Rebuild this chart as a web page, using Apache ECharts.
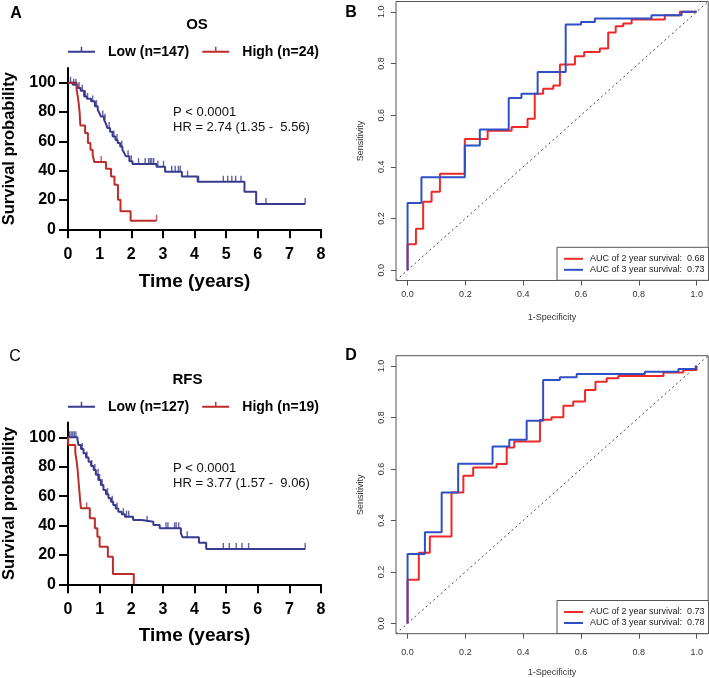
<!DOCTYPE html>
<html><head><meta charset="utf-8">
<script src="https://cdn.jsdelivr.net/npm/echarts@6/dist/echarts.min.js"></script>
<style>html,body{margin:0;padding:0;background:#fff}#c{width:709px;height:678px}</style>
</head><body><div id="c"></div>
<script>
// ---------- Panel A : OS Kaplan-Meier ----------
const osLowTimes = [0, 0.15, 0.3, 0.4, 0.51, 0.6, 0.73, 0.85, 0.94, 1.0, 1.04, 1.14, 1.2, 1.25, 1.33, 1.41, 1.5, 1.57, 1.65, 1.72, 1.78, 1.83, 1.94, 2.04, 2.8, 3.07, 3.6, 4.1, 5.58, 5.95];
const osLowSurv  = [100, 98.6, 96.4, 94.5, 90.7, 89, 87.3, 84, 81.6, 79, 77, 74.8, 72, 69.1, 66.5, 63.4, 61, 58.9, 56.5, 54.3, 52, 49.8, 46.4, 44.5, 42.7, 39.3, 36, 32.5, 25.7, 17.3];
const osLowEnd = 7.5;
const osLowCensor = [0.08, 0.18, 0.25, 0.35, 0.45, 0.55, 0.62, 0.78, 0.9, 1.1, 1.17, 1.3, 1.45, 1.55, 1.7, 1.9, 2.0, 2.23, 2.44, 2.55, 2.6, 2.65, 2.71, 2.84, 3.02, 3.28, 3.39, 3.49, 3.55, 3.78, 4.13, 4.91, 5.05, 5.18, 5.3, 5.47, 6.26, 7.5];
const osHighTimes = [0, 0.27, 0.3, 0.33, 0.35, 0.37, 0.38, 0.39, 0.54, 0.63, 0.71, 0.78, 0.83, 1.2, 1.36, 1.47, 1.58, 1.66, 1.98];
const osHighSurv  = [100, 95.8, 91.7, 87.5, 83.3, 79.2, 75, 70.9, 65.7, 58.9, 54.3, 50.9, 45.9, 41.4, 36.1, 30.4, 20.2, 12.3, 5.9];
const osHighEnd = 2.8;
const osHighCensor = [1.05, 2.8];

// ---------- Panel C : RFS Kaplan-Meier ----------
const rfsLowTimes = [0, 0.3, 0.33, 0.41, 0.49, 0.57, 0.65, 0.73, 0.81, 0.88, 0.96, 1.04, 1.12, 1.2, 1.28, 1.36, 1.43, 1.51, 1.59, 1.7, 1.8, 2.06, 2.33, 2.7, 2.9, 3.57, 3.62, 4.14, 4.37];
const rfsLowSurv  = [100, 98.5, 94.8, 92, 89.1, 86.2, 83.4, 80.5, 77.8, 74.5, 71, 67.5, 64.1, 61.3, 58.5, 56.2, 53.9, 51.6, 49.4, 47.7, 46, 43.7, 42.6, 40.4, 38.1, 34.8, 32, 28.3, 24];
const rfsLowEnd = 7.5;
const rfsLowCensor = [0.05, 0.1, 0.15, 0.2, 0.25, 0.45, 0.6, 0.75, 0.85, 0.95, 1.0, 1.08, 1.25, 1.4, 1.55, 1.75, 1.85, 1.92, 2.5, 3.1, 3.16, 3.37, 3.42, 3.5, 3.77, 4.91, 5.1, 5.32, 5.5, 5.71, 7.5];
const rfsHighTimes = [0, 0.01, 0.23, 0.27, 0.3, 0.32, 0.34, 0.36, 0.38, 0.41, 0.69, 0.85, 0.93, 1.0, 1.26, 1.42, 2.08];
const rfsHighSurv  = [100, 94.7, 89.5, 84.2, 78.9, 73.7, 68.4, 63.2, 57.9, 51.7, 44.9, 38.1, 32.4, 25.6, 18.8, 7, 0];
const rfsHighEnd = 2.08;
const rfsHighCensor = [0.59];

const kmYTicks = [0, 20, 40, 60, 80, 100];

// ---------- Panel B : ROC (OS) ----------
const rocB2Fpr = [0, 0, 0.029, 0.054, 0.083, 0.112, 0.198, 0.277, 0.36, 0.415, 0.44, 0.469, 0.504, 0.527, 0.579, 0.611, 0.665, 0.694, 0.72, 0.746, 0.775, 0.89, 0.942, 1.0];
const rocB2Tpr = [0, 0.10, 0.16, 0.265, 0.304, 0.373, 0.508, 0.54, 0.554, 0.586, 0.683, 0.702, 0.715, 0.796, 0.828, 0.845, 0.858, 0.92, 0.944, 0.955, 0.97, 0.987, 1.0, 1.0];
const rocB3Fpr = [0, 0, 0.048, 0.198, 0.25, 0.35, 0.394, 0.45, 0.547, 0.6, 0.648, 0.844, 0.948, 1.0];
const rocB3Tpr = [0, 0.26, 0.36, 0.483, 0.545, 0.666, 0.683, 0.767, 0.951, 0.961, 0.974, 0.987, 1.0, 1.0];

// ---------- Panel D : ROC (RFS) ----------
const rocD2Fpr = [0, 0, 0.039, 0.077, 0.152, 0.193, 0.227, 0.308, 0.343, 0.369, 0.458, 0.498, 0.539, 0.573, 0.614, 0.65, 0.689, 0.729, 0.885, 0.954, 1.0];
const rocD2Tpr = [0, 0.17, 0.274, 0.338, 0.509, 0.574, 0.606, 0.619, 0.683, 0.707, 0.791, 0.801, 0.846, 0.862, 0.907, 0.939, 0.952, 0.961, 0.975, 0.984, 1.0];
const rocD3Fpr = [0, 0, 0.06, 0.118, 0.175, 0.294, 0.352, 0.412, 0.469, 0.527, 0.585, 0.821, 0.937, 0.997, 1.0];
const rocD3Tpr = [0, 0.27, 0.354, 0.509, 0.62, 0.687, 0.713, 0.787, 0.946, 0.956, 0.969, 0.978, 0.988, 1.0, 1.0];
const rocTicks = [0, 0.2, 0.4, 0.6, 0.8, 1.0];

const names = {
  osLow: 'Low (n=147)', osHigh: 'High (n=24)',
  rfsLow: 'Low (n=127)', rfsHigh: 'High (n=19)',
  b2: 'AUC of 2 year survival:  0.68', b3: 'AUC of 3 year survival:  0.73',
  d2: 'AUC of 2 year survival:  0.73', d3: 'AUC of 3 year survival:  0.78'
};

// ---------- helpers ----------
const FONT = "'Liberation Sans', Arial, Helvetica, sans-serif";
const KM_BLUE = '#3a3a8e', KM_RED = '#bb2e2a';
const ROC_RED = '#f02828', ROC_BLUE = '#2f4fc4';

function kmLine(times, surv, end) {
  const d = times.map((t, i) => [t, surv[i]]);
  d.push([end, surv[surv.length - 1]]);
  return d;
}
function survAt(times, surv, t) {
  let s = surv[0];
  for (let i = 0; i < times.length; i++) if (times[i] <= t) s = surv[i];
  return s;
}
function censorPts(times, surv, cens) {
  return cens.map(t => [t, survAt(times, surv, t)]);
}
function pairs(xs, ys) { return xs.map((x, i) => [x, ys[i]]); }

function kmSeries(idx, name, times, surv, end, cens, color) {
  return [
    { type: 'line', name: name, xAxisIndex: idx, yAxisIndex: idx, step: 'end',
      data: kmLine(times, surv, end), showSymbol: false, symbol: 'none',
      lineStyle: { color: color, width: 2 }, itemStyle: { color: color }, z: 3 },
    { type: 'scatter', name: name + ' censor', xAxisIndex: idx, yAxisIndex: idx,
      data: censorPts(times, surv, cens), symbol: 'rect', symbolSize: [1.4, 6], symbolOffset: [0, -3],
      itemStyle: { color: color }, silent: true, z: 4 }
  ];
}
function rocSeries(idx, name, fpr, tpr, color) {
  return { type: 'line', name: name, xAxisIndex: idx, yAxisIndex: idx, step: 'end',
    data: pairs(fpr, tpr), showSymbol: false, symbol: 'none',
    lineStyle: { color: color, width: 2 }, itemStyle: { color: color }, z: 3 };
}
function diagSeries(idx) {
  return { type: 'line', xAxisIndex: idx, yAxisIndex: idx, data: [[-0.04, -0.04], [1.04, 1.04]],
    showSymbol: false, symbol: 'none', silent: true,
    lineStyle: { color: '#444', width: 1, type: [2, 3] }, z: 2 };
}

function kmX(idx, nameGap) {
  return { gridIndex: idx, type: 'value', min: 0, max: 8, interval: 1,
    name: 'Time (years)', nameLocation: 'middle', nameGap: nameGap,
    nameTextStyle: { fontSize: 19, fontWeight: 'bold', color: '#000', fontFamily: FONT },
    axisLine: { show: true, lineStyle: { color: '#000', width: 2 } },
    axisTick: { show: true, length: 9, lineStyle: { color: '#000', width: 2 } },
    axisLabel: { fontSize: 16, fontWeight: 'bold', color: '#000', fontFamily: FONT, margin: 17 },
    splitLine: { show: false } };
}
function kmY(idx) {
  return { gridIndex: idx, type: 'value', min: 0, max: 110,
    name: 'Survival probability', nameLocation: 'middle', nameGap: 50,
    nameTextStyle: { fontSize: 16.5, fontWeight: 'bold', color: '#000', fontFamily: FONT },
    axisLine: { show: true, lineStyle: { color: '#000', width: 2 } },
    axisTick: { show: true, length: 9, lineStyle: { color: '#000', width: 2 }, customValues: kmYTicks },
    axisLabel: { fontSize: 16, fontWeight: 'bold', color: '#000', fontFamily: FONT, margin: 12, customValues: kmYTicks },
    splitLine: { show: false } };
}
function rocX(idx, margin, nameGap) {
  return { gridIndex: idx, type: 'value', min: -0.04, max: 1.04,
    name: '1-Specificity', nameLocation: 'middle', nameGap: nameGap,
    nameTextStyle: { fontSize: 9, color: '#333', fontFamily: FONT },
    axisLine: { show: false, onZero: false },
    axisTick: { show: true, inside: false, length: 5, lineStyle: { color: '#555', width: 1 }, customValues: rocTicks },
    axisLabel: { fontSize: 9, color: '#333', fontFamily: FONT, margin: margin, customValues: rocTicks,
      formatter: v => v.toFixed(1) },
    splitLine: { show: false } };
}
function rocY(idx) {
  return { gridIndex: idx, type: 'value', min: -0.04, max: 1.04,
    name: 'Sensitivity', nameLocation: 'middle', nameGap: 31,
    nameTextStyle: { fontSize: 9, color: '#333', fontFamily: FONT },
    axisLine: { show: false, onZero: false },
    axisTick: { show: true, inside: false, length: 5, lineStyle: { color: '#555', width: 1 }, customValues: rocTicks },
    axisLabel: { fontSize: 9, color: '#333', fontFamily: FONT, margin: 10, rotate: 90, customValues: rocTicks,
      formatter: v => v.toFixed(1) },
    splitLine: { show: false } };
}
const kmIcon = 'path://M0,5 L27,5 L27,7 L0,7 Z M12.8,1 L14.2,1 L14.2,5 L12.8,5 Z M0,0 L0.01,0 L0,0.01 Z M0,12 L0.01,12 L0,12.01 Z';
function kmLegend(top, items) {
  return { top: top, left: 68, orient: 'horizontal', padding: 0, itemGap: 13,
    itemWidth: 27, itemHeight: 12, icon: kmIcon, data: items,
    itemStyle: { borderWidth: 0 },
    textStyle: { fontSize: 14, fontWeight: 'bold', color: '#000', fontFamily: FONT, lineHeight: 16, padding: [0, 0, 0, 8] } };
}
function rocLegend(top, items) {
  return { top: top, left: 557, orient: 'vertical', align: 'left', padding: [6, 4, 5, 7], itemGap: 0,
    itemWidth: 19, itemHeight: 2, icon: 'path://M0,0 L19,0 L19,2 L0,2 Z', data: items,
    borderColor: '#555', borderWidth: 1, backgroundColor: '#fff',
    itemStyle: { borderWidth: 0 },
    textStyle: { fontSize: 9, color: '#222', fontFamily: FONT, lineHeight: 11, padding: [0, 0, 0, 2] } };
}
function txt(x, y, s, size, weight, align, color) {
  return { type: 'text', x: x, y: y, silent: true,
    style: { text: s, fontSize: size, fontWeight: weight, fontFamily: FONT, fill: color || '#000',
      align: align || 'center', verticalAlign: 'middle' } };
}

const chart = echarts.init(document.getElementById('c'), null, { renderer: 'canvas' });
chart.setOption({
  animation: false,
  backgroundColor: '#fff',
  grid: [
    { left: 67.7, top: 68.1, width: 253.3, height: 161.2, show: false },
    { left: 396, top: 1.5, width: 312.2, height: 279, show: true, borderColor: '#555', borderWidth: 1, backgroundColor: 'transparent' },
    { left: 66.7, top: 422.6, width: 254.3, height: 161.7, show: false },
    { left: 396, top: 355.7, width: 312.2, height: 278, show: true, borderColor: '#555', borderWidth: 1, backgroundColor: 'transparent' }
  ],
  xAxis: [kmX(0, 43), rocX(1, 10, 33), kmX(2, 42), rocX(3, 14, 34)],
  yAxis: [kmY(0), rocY(1), kmY(2), rocY(3)],
  legend: [
    kmLegend(43.7, [names.osLow, names.osHigh]),
    rocLegend(247.3, [names.b2, names.b3]),
    kmLegend(398.7, [names.rfsLow, names.rfsHigh]),
    rocLegend(600.5, [names.d2, names.d3])
  ],
  graphic: [
    txt(16, 13.5, 'A', 16, 'bold'),
    txt(351, 12.5, 'B', 16, 'bold'),
    txt(15, 357, 'C', 16, 'normal'),
    txt(351, 356, 'D', 16, 'bold'),
    txt(197, 25.3, 'OS', 15, 'bold'),
    txt(187.5, 380, 'RFS', 15, 'bold'),
    txt(173, 112, 'P < 0.0001', 13, 'normal', 'left', '#111'),
    txt(173, 127, 'HR = 2.74 (1.35 -  5.56)', 13, 'normal', 'left', '#111'),
    txt(173, 468.3, 'P < 0.0001', 13, 'normal', 'left', '#111'),
    txt(173, 483.3, 'HR = 3.77 (1.57 -  9.06)', 13, 'normal', 'left', '#111')
  ],
  series: [].concat(
    kmSeries(0, names.osLow, osLowTimes, osLowSurv, osLowEnd, osLowCensor, KM_BLUE),
    kmSeries(0, names.osHigh, osHighTimes, osHighSurv, osHighEnd, osHighCensor, KM_RED),
    kmSeries(2, names.rfsLow, rfsLowTimes, rfsLowSurv, rfsLowEnd, rfsLowCensor, KM_BLUE),
    kmSeries(2, names.rfsHigh, rfsHighTimes, rfsHighSurv, rfsHighEnd, rfsHighCensor, KM_RED),
    [diagSeries(1), rocSeries(1, names.b2, rocB2Fpr, rocB2Tpr, ROC_RED), rocSeries(1, names.b3, rocB3Fpr, rocB3Tpr, ROC_BLUE)],
    [diagSeries(3), rocSeries(3, names.d2, rocD2Fpr, rocD2Tpr, ROC_RED), rocSeries(3, names.d3, rocD3Fpr, rocD3Tpr, ROC_BLUE)]
  )
});
</script></body></html>
